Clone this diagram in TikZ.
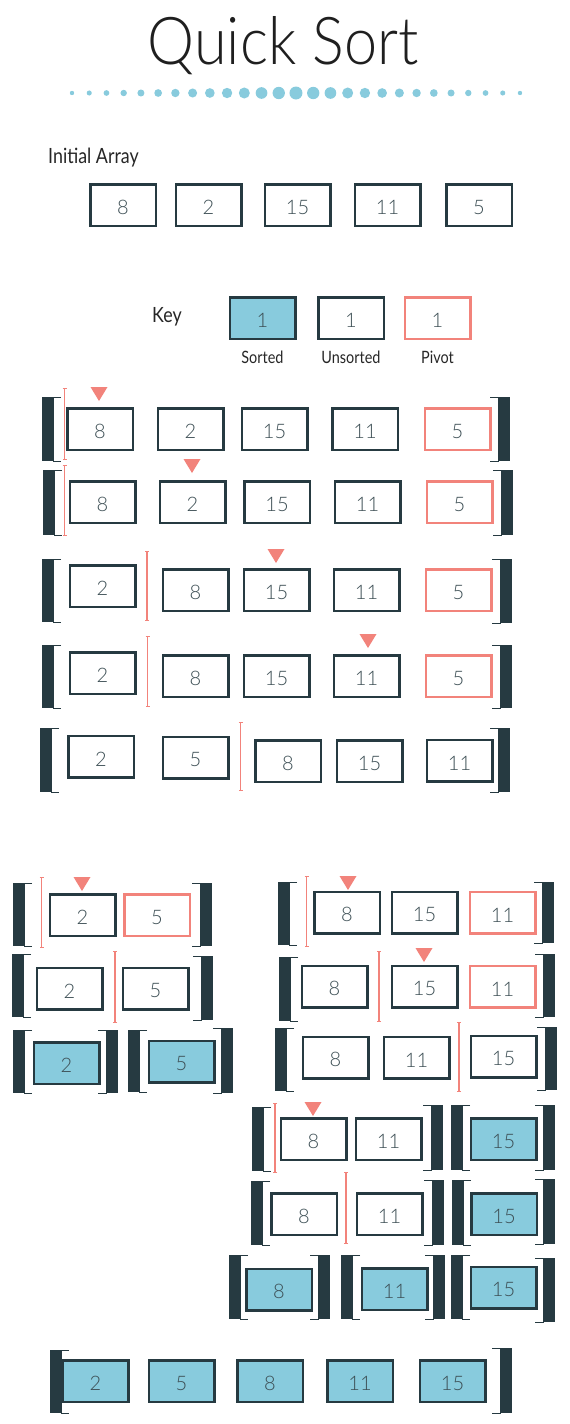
\documentclass[tikz,border=0pt]{standalone}
\usepackage{fontspec}
\setmainfont{Lato}
\newfontfamily\numfont{Lato Light}
\newfontfamily\labfont{Lato}[FakeStretch=0.85]
\newfontfamily\titlefont{Lato Light}[FakeStretch=0.9]
\usepackage{tikz}
\usetikzlibrary{arrows.meta}
\definecolor{ink}{HTML}{263A41}
\definecolor{pivred}{HTML}{F2837B}
\definecolor{sortblue}{HTML}{88CBDD}
\tikzstyle{cell} = [rectangle, minimum width=65.5pt, minimum height=41.5pt, inner sep=0pt, text height=19pt, line width=2.5pt, draw=ink, fill=white, text=ink!90, font=\numfont\fontsize{20}{20}\selectfont]
\tikzstyle{pivcell} = [cell, draw=pivred]
\tikzstyle{sortcell} = [cell, fill=sortblue]
\tikzstyle{label} = [text=black!85, font=\labfont\fontsize{21}{21}\selectfont, inner sep=0pt]
\tikzstyle{keylabel} = [text=black!85, font=\labfont\fontsize{17}{17}\selectfont, inner sep=0pt, anchor=base]
\tikzstyle{splitter} = [pivred, line width=1.3pt, {Bar[width=4pt,line width=0.6pt]}-{Bar[width=4pt,line width=0.6pt]}]
\tikzstyle{hook} = [ink, line width=1pt]
\newcommand{\lbrk}[3]{\fill[ink] (#1,#2) rectangle (#1+11,#3);
  \draw[hook] (#1+19,#2) -- (#1+11,#2) -- (#1+11,#3) -- (#1+19,#3);}
\newcommand{\rbrk}[3]{\fill[ink] (#1,#2) rectangle (#1+12,#3);
  \draw[hook] (#1-8,#2) -- (#1,#2) -- (#1,#3) -- (#1-8,#3);}
\newcommand{\pvtmark}[2]{\fill[pivred] (#1-8.5,#2) -- (#1+8.5,#2) -- (#1,#2+14) -- cycle;}

\begin{document}
\begin{tikzpicture}[x=1pt, y=-1pt]

\useasboundingbox (0,0) rectangle (570,1424);

\node (title) [anchor=base, inner sep=0pt, text=black!88, font=\titlefont\fontsize{66}{66}\selectfont] at (283,64) {Quick Sort};
\foreach \i in {0,...,26}
  \fill[sortblue] ({72+17.23*\i},93) circle ({2.2+4.3*(1-abs(\i-13)/13)});

\node (initlab) [label, anchor=base west] at (48,163) {Initial Array};
\node (i1) [cell] at (123,205) {8};
\node (i2) [cell] at (208.5,205) {2};
\node (i3) [cell] at (297.5,205) {15};
\node (i4) [cell] at (387.5,205) {11};
\node (i5) [cell] at (479,205) {5};

\node (keylab) [label, anchor=base west] at (152,322) {Key};
\node (ksort) [sortcell] at (262.5,318) {1};
\node (kunsort) [cell] at (351,318) {1};
\node (kpiv) [pivcell] at (437.5,318) {1};
\node (ksortlab) [keylabel] at (262.5,363) {Sorted};
\node (kunsortlab) [keylabel] at (351,363) {Unsorted};
\node (kpivlab) [keylabel] at (437.5,363) {Pivot};

\lbrk{42}{397}{461} \rbrk{498}{397}{461}
\coordinate (d1t) at (64.5,388); \coordinate (d1b) at (64.5,460);
\draw [splitter] (d1t) -- (d1b);
\pvtmark{99}{387}
\node (r1a) [cell] at (100,429) {8};
\node (r1b) [cell] at (190.5,429) {2};
\node (r1c) [cell] at (274.5,429) {15};
\node (r1d) [cell] at (365,429) {11};
\node (r1e) [pivcell] at (457.5,429) {5};

\lbrk{43}{470}{535} \rbrk{501}{470}{535}
\coordinate (d2t) at (64.7,465); \coordinate (d2b) at (64.7,536);
\draw [splitter] (d2t) -- (d2b);
\pvtmark{192}{459}
\node (r2a) [cell] at (102.5,502) {8};
\node (r2b) [cell] at (192.5,502) {2};
\node (r2c) [cell] at (277,502) {15};
\node (r2d) [cell] at (367.5,502) {11};
\node (r2e) [pivcell] at (459.5,502) {5};

\lbrk{42}{559}{622} \rbrk{500}{559}{623}
\coordinate (d3t) at (147,551); \coordinate (d3b) at (147,621);
\draw [splitter] (d3t) -- (d3b);
\pvtmark{276}{549}
\node (r3a) [cell] at (102.5,586) {2};
\node (r3b) [cell] at (195.5,590) {8};
\node (r3c) [cell] at (276.5,590) {15};
\node (r3d) [cell] at (366.5,590) {11};
\node (r3e) [pivcell] at (458.5,590) {5};

\lbrk{42}{645}{708} \rbrk{500}{645}{708}
\coordinate (d4t) at (147.5,636); \coordinate (d4b) at (147.5,707);
\draw [splitter] (d4t) -- (d4b);
\pvtmark{368}{634}
\node (r4a) [cell] at (102.5,673) {2};
\node (r4b) [cell] at (195.5,676) {8};
\node (r4c) [cell] at (276.5,676) {15};
\node (r4d) [cell] at (366.5,676) {11};
\node (r4e) [pivcell] at (458.5,676) {5};

\lbrk{40}{728}{792} \rbrk{498}{728}{792}
\coordinate (d5t) at (240.7,722); \coordinate (d5b) at (240.7,791);
\draw [splitter] (d5t) -- (d5b);
\node (r5a) [cell] at (101,756.5) {2};
\node (r5b) [cell] at (195.5,757.5) {5};
\node (r5c) [cell] at (288,761) {8};
\node (r5d) [cell] at (369.5,761) {15};
\node (r5e) [cell] at (459.5,760.5) {11};

\lbrk{13}{883}{946} \rbrk{200}{883}{946}
\coordinate (la1t) at (41.7,877); \coordinate (la1b) at (41.7,948);
\draw [splitter] (la1t) -- (la1b);
\pvtmark{82}{877}
\node (la1) [cell] at (82.5,915) {2};
\node (la2) [pivcell] at (157,915) {5};

\lbrk{12}{954}{1017} \rbrk{201}{956}{1020}
\coordinate (lb1t) at (115,951); \coordinate (lb1b) at (115,1023);
\draw [splitter] (lb1t) -- (lb1b);
\node (lb1) [cell] at (69.5,988.5) {2};
\node (lb2) [cell] at (155.5,988.5) {5};

\lbrk{13}{1030}{1093} \rbrk{106}{1030}{1093}
\lbrk{128}{1030}{1092} \rbrk{221}{1028}{1093}
\node (lc1) [sortcell] at (66.5,1063) {2};
\node (lc2) [sortcell] at (181.5,1061.5) {5};

\lbrk{278}{882}{945} \rbrk{542}{882}{943}
\coordinate (ra1t) at (306.7,876); \coordinate (ra1b) at (306.7,947);
\draw [splitter] (ra1t) -- (ra1b);
\pvtmark{348}{876}
\node (ra1) [cell] at (347,912.5) {8};
\node (ra2) [cell] at (424.5,912.5) {15};
\node (ra3) [pivcell] at (502.5,912.5) {11};

\lbrk{279}{957}{1021} \rbrk{543}{954}{1017}
\coordinate (rb1t) at (379,951); \coordinate (rb1b) at (379,1022);
\draw [splitter] (rb1t) -- (rb1b);
\pvtmark{424}{948}
\node (rb1) [cell] at (334.5,986.5) {8};
\node (rb2) [cell] at (424.5,986.5) {15};
\node (rb3) [pivcell] at (502.5,986.5) {11};

\lbrk{275}{1028}{1091} \rbrk{545}{1027}{1090}
\coordinate (rc1t) at (459,1022); \coordinate (rc1b) at (459,1092);
\draw [splitter] (rc1t) -- (rc1b);
\node (rc1) [cell] at (335.5,1057.5) {8};
\node (rc2) [cell] at (416.5,1057.5) {11};
\node (rc3) [cell] at (503.5,1056.5) {15};

\lbrk{252}{1107}{1171} \rbrk{431}{1105}{1170}
\lbrk{451}{1105}{1170} \rbrk{543}{1105}{1170}
\coordinate (rd1t) at (275,1103); \coordinate (rd1b) at (275,1173);
\draw [splitter] (rd1t) -- (rd1b);
\pvtmark{313}{1102}
\node (rd1) [cell] at (313.5,1139) {8};
\node (rd2) [cell] at (388.5,1139) {11};
\node (rd3) [sortcell] at (503.5,1139) {15};

\lbrk{251}{1181}{1245} \rbrk{432}{1180}{1245}
\lbrk{452}{1180}{1245} \rbrk{543}{1179}{1244}
\coordinate (re1t) at (346,1172); \coordinate (re1b) at (346,1244);
\draw [splitter] (re1t) -- (re1b);
\node (re1) [cell] at (304,1214) {8};
\node (re2) [cell] at (389.5,1214) {11};
\node (re3) [sortcell] at (504,1214) {15};

\lbrk{229}{1255}{1319} \rbrk{318}{1255}{1319}
\lbrk{341}{1255}{1319} \rbrk{433}{1255}{1319}
\lbrk{451}{1255}{1319} \rbrk{543}{1258}{1322}
\node (rf1) [sortcell] at (279,1289.5) {8};
\node (rf2) [sortcell] at (394.5,1289) {11};
\node (rf3) [sortcell] at (503.5,1287.5) {15};

\lbrk{50}{1350}{1413} \rbrk{500}{1348}{1413}
\node (f1) [sortcell] at (95.5,1381) {2};
\node (f2) [sortcell] at (181.5,1381) {5};
\node (f3) [sortcell] at (270,1381) {8};
\node (f4) [sortcell] at (360,1381) {11};
\node (f5) [sortcell] at (452.5,1381) {15};

\end{tikzpicture}
\end{document}
